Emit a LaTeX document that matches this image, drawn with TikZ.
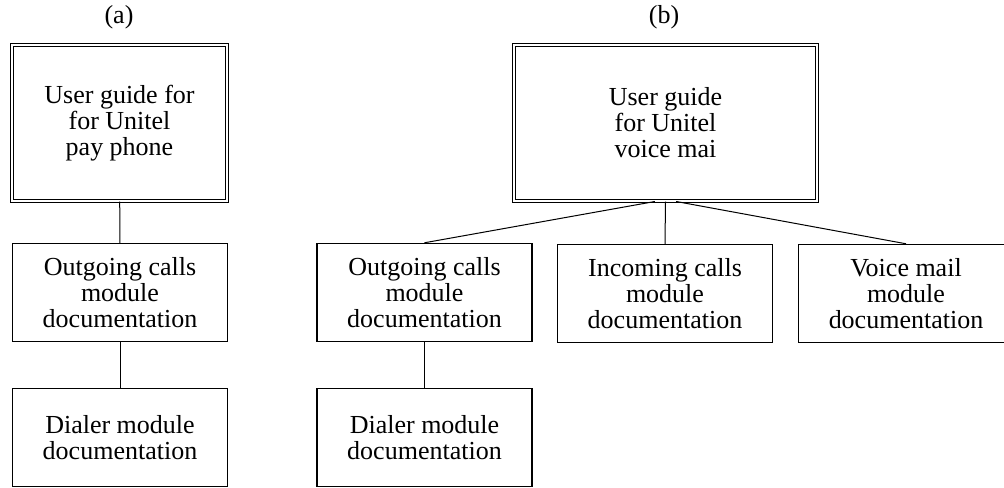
\documentclass[tikz,border=0pt]{standalone}
\usepackage{fontspec}
\setmainfont{Liberation Serif}

\begin{document}
\begin{tikzpicture}[x=0.75pt,y=-0.75pt]

      \clip (0,0) rectangle (1004,487);
      \fontsize{19.5}{19.5}\selectfont

      \node (la) at (119,17) {(a)};
      \node (lb) at (664,17) {(b)};

      \begin{scope}[every node/.style={draw, double, line width=0.75pt, double distance=1.5pt,
          align=center, inner sep=0pt, minimum height=117pt}]
        \node[minimum width=161.25pt] (ga) at (119.5,123) {User guide for\\for Unitel\\pay phone};
        \node[minimum width=227.25pt] (gb) at (665.5,123) {User guide\\for Unitel\\voice mai};
      \end{scope}

      \begin{scope}[every node/.style={draw, line width=1.1pt, align=center, inner sep=0pt,
          minimum width=161pt, minimum height=73.5pt}]
        \node (oa) at (120,292.5) {Outgoing calls\\module\\documentation};
        \node (da) at (120,437.5) {Dialer module\\documentation};
        \node (ob) at (424.5,292.5) {Outgoing calls\\module\\documentation};
        \node (db) at (424.5,437.5) {Dialer module\\documentation};
        \node (ib) at (665,293.5) {Incoming calls\\module\\documentation};
        \node (vb) at (906,293.5) {Voice mail\\module\\documentation};
      \end{scope}

      \begin{scope}[every path/.style={line width=0.75pt}]
        \draw (ga) -- (oa);
        \draw (oa) -- (da);
        \draw ([xshift=-8pt]gb.south) -- (ob.north);
        \draw (gb.south) -- (ib.north);
        \draw ([xshift=8pt]gb.south) -- (vb.north);
        \draw (ob) -- (db);
      \end{scope}

    \end{tikzpicture}
\end{document}
